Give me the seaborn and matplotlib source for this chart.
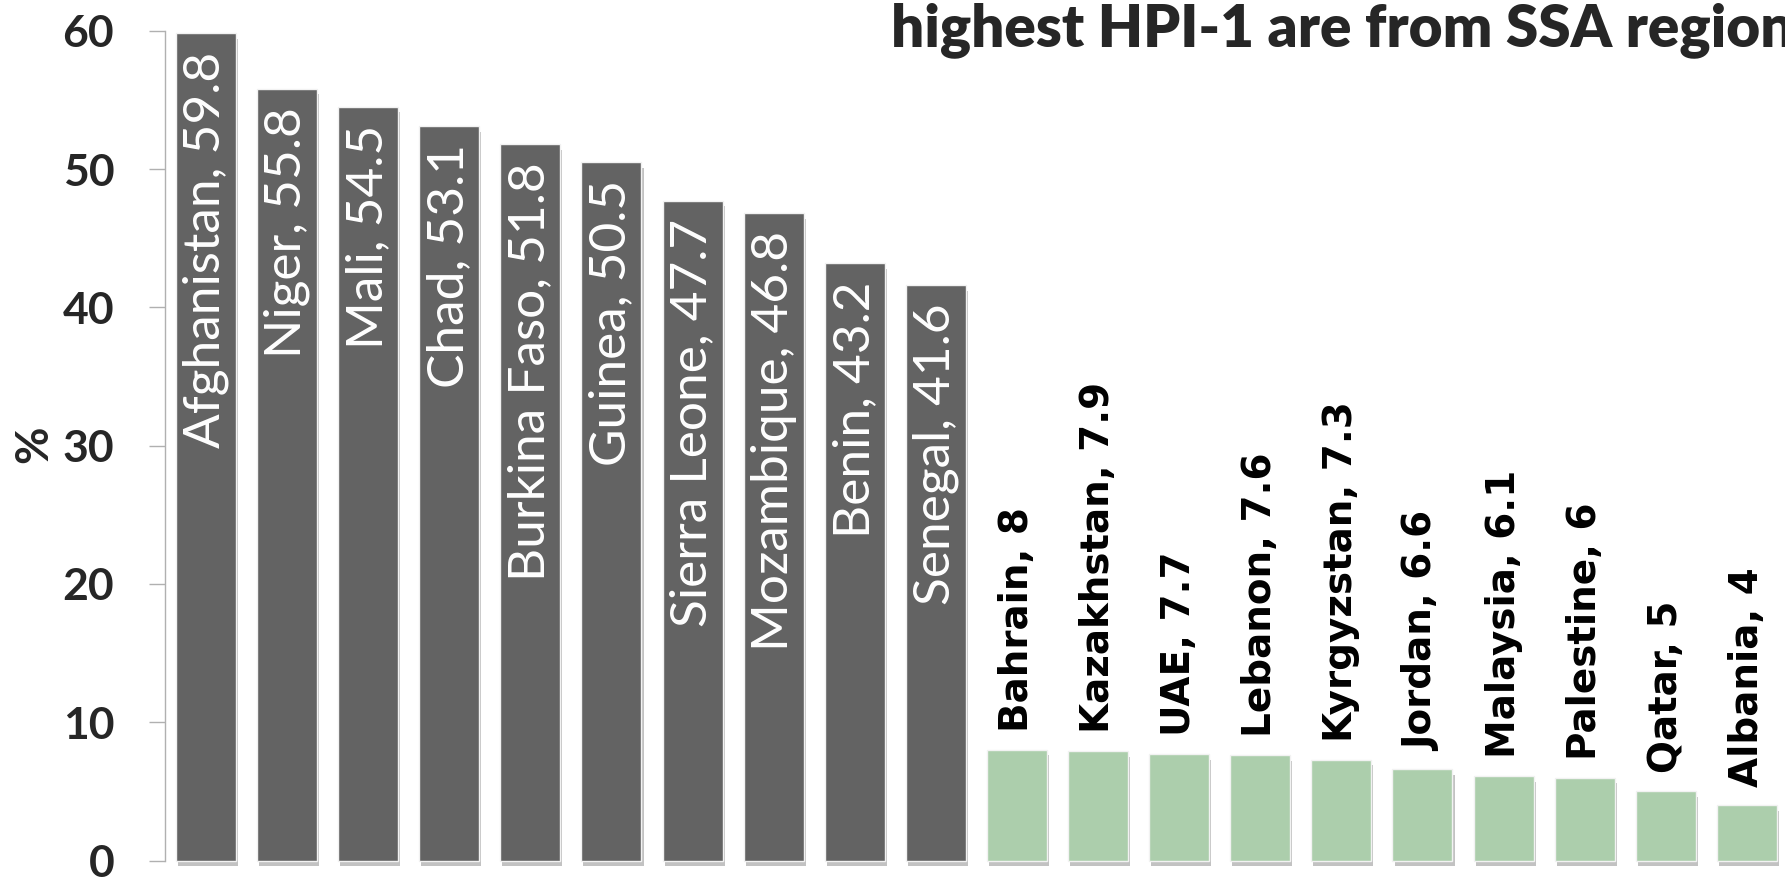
import numpy as np
import pandas as pd
import matplotlib
matplotlib.use('Agg')
import matplotlib.pyplot as plt
import matplotlib.patheffects as pe
import seaborn as sns


countries = ['Afghanistan', 'Niger', 'Mali', 'Chad', 'Burkina Faso', 'Guinea',
             'Sierra Leone', 'Mozambique', 'Benin', 'Senegal',
             'Bahrain', 'Kazakhstan', 'UAE', 'Lebanon', 'Kyrgyzstan',
             'Jordan', 'Malaysia', 'Palestine', 'Qatar', 'Albania']
hpi = [59.8, 55.8, 54.5, 53.1, 51.8, 50.5, 47.7, 46.8, 43.2, 41.6,
       8, 7.9, 7.7, 7.6, 7.3, 6.6, 6.1, 6, 5, 4]
groups = ['high'] * 10 + ['low'] * 10
y_ticks = [0, 10, 20, 30, 40, 50, 60]
title = 'highest HPI-1 are from SSA region'


def hpi_plot():
    df = pd.DataFrame({'country': countries, 'hpi': hpi, 'group': groups})

    sns.set_style('white')
    plt.rcParams['font.family'] = ['Lato', 'DejaVu Sans']

    fig = plt.figure(figsize=(17.85, 8.82), dpi=100)
    ax = fig.add_axes([0.0924, 0.0243, 0.9076, 0.9409])

    sns.barplot(data=df, x='country', y='hpi', hue='group', order=countries,
                palette={'high': '#636363', 'low': '#a6d4a6'}, dodge=False,
                width=0.74, legend=False, ax=ax, edgecolor='#f2f2f2', linewidth=1)

    # soft drop shadow under the bars
    for bar in ax.patches:
        bar.set_clip_on(False)
        bar.set_path_effects([pe.SimplePatchShadow(offset=(1.5, -4), shadow_rgbFace='#9a9a9a', alpha=0.6),
                              pe.Normal()])

    for i, (name, val, grp) in enumerate(zip(countries, hpi, groups)):
        label = f'{name}, {val:g}'
        if grp == 'high':
            ax.annotate(label, (i, val), xytext=(0, -13), textcoords='offset points',
                        ha='center', va='top', rotation=90, color='white',
                        fontsize=37, annotation_clip=False)
        else:
            ax.annotate(label, (i, val), xytext=(0, 13), textcoords='offset points',
                        ha='center', va='bottom', rotation=90, color='black',
                        fontsize=28, fontweight='bold', family='DejaVu Sans',
                        annotation_clip=False)

    ax.set_xlim(-0.505, 19.47)
    ax.set_ylim(0, 60)
    ax.set_yticks(y_ticks)
    ax.set_yticklabels([str(t) for t in y_ticks], fontsize=32, fontweight='bold')
    ax.tick_params(axis='y', direction='out', length=11.5, width=1, color='#b0b0b0', pad=25, left=True)
    ax.tick_params(axis='x', bottom=False, labelbottom=False)
    ax.set_xlabel('')
    ax.set_ylabel('')

    for s in ['top', 'right', 'bottom']:
        ax.spines[s].set_visible(False)
    ax.spines['left'].set_color('#b0b0b0')
    ax.spines['left'].set_linewidth(1)

    fig.text(34 / 1785, 1 - 444 / 882, '%', rotation=90, ha='center', va='center',
             fontsize=33, fontweight='bold')
    # title runs past the right edge, as in the original slide
    fig.text(891 / 1785, 1 - 46 / 882, title, ha='left', va='baseline',
             fontsize=42, fontweight='heavy')

    fig.savefig('out.png', dpi=100)


if __name__ == '__main__':
    hpi_plot()
